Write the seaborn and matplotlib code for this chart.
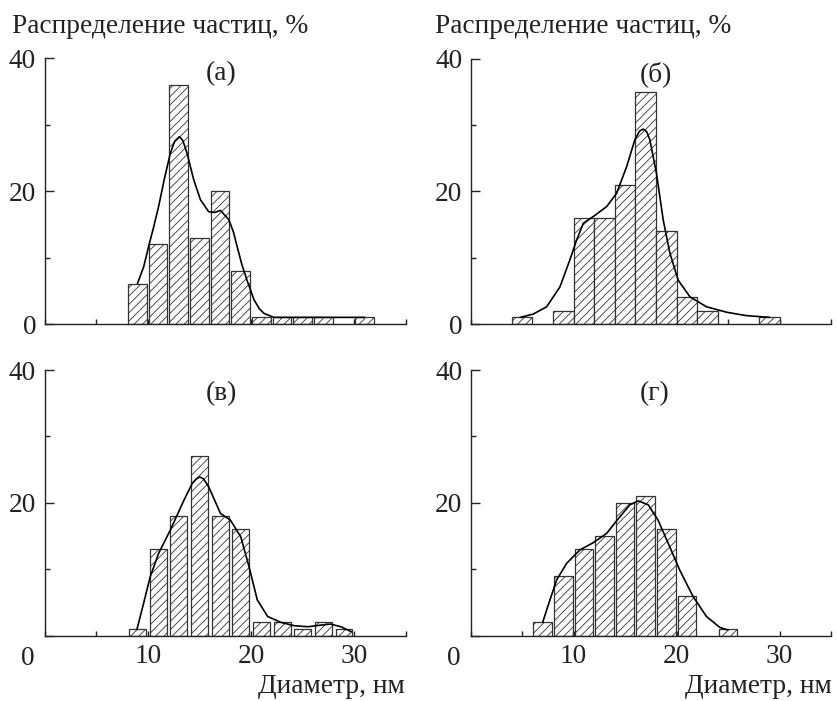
import matplotlib
matplotlib.use("Agg")
import matplotlib.pyplot as plt
import seaborn as sns
import pandas as pd
from matplotlib.ticker import MultipleLocator, FixedLocator, FuncFormatter

# ---------------- data ----------------
a_centers = [9, 11, 13, 15, 17, 19, 21, 23, 25, 27, 31]
a_values = [6, 12, 36, 13, 20, 8, 1, 1, 1, 1, 1]
a_curve_x = [9.0, 9.6, 10.15, 10.6, 11.05, 11.6, 12.18, 12.6, 13.06, 13.4, 13.8, 14.45, 15.1,
             15.9, 16.5, 17.04, 17.85, 18.3, 18.66, 19.1, 19.6, 20.3, 20.8, 21.25, 22.2, 26.0, 31.0]
a_curve_y = [6.1, 8.6, 12.1, 14.8, 17.7, 21.8, 25.7, 27.5, 28.2, 27.6, 25.7, 21.7, 18.7,
             16.9, 16.8, 17.1, 15.7, 13.8, 11.6, 9.0, 6.6, 3.6, 2.3, 1.6, 1.0, 1.0, 1.0]

b_centers = [5, 9, 11, 13, 15, 17, 19, 21, 23, 29]
b_values = [1, 2, 16, 16, 21, 35, 14, 4, 2, 1]
b_curve_x = [4.8, 6.08, 7.38, 8.67, 9.64, 10.3, 10.94, 11.9, 13.2, 14.17, 15.14, 15.95,
             16.4, 16.76, 17.1, 17.4, 18.05, 18.7, 19.35, 20.16, 21.3, 22.9, 24.9, 26.8, 29.05]
b_curve_y = [1.0, 1.5, 2.6, 5.6, 9.7, 12.7, 15.2, 16.2, 17.7, 19.7, 23.7, 27.8,
             29.1, 29.4, 29.0, 27.8, 22.7, 15.7, 10.7, 6.6, 4.1, 2.6, 1.76, 1.26, 1.0]

v_centers = [9, 11, 13, 15, 17, 19, 21, 23, 25, 27, 29]
v_values = [1, 13, 18, 27, 18, 16, 2, 2, 1, 2, 1]
v_curve_x = [8.95, 9.6, 10.24, 11.05, 12.18, 13.5, 14.3, 14.7, 15.03, 15.4, 15.9, 17.04, 18.0,
             19.0, 19.8, 20.6, 21.6, 22.9, 24.2, 25.5, 26.8, 27.7, 28.7, 29.7]
v_curve_y = [0.95, 4.9, 8.9, 12.4, 15.9, 20.4, 22.9, 23.6, 23.9, 23.6, 22.4, 18.4, 17.4,
             14.9, 10.4, 5.4, 2.9, 2.0, 1.5, 1.35, 1.6, 1.75, 1.35, 0.6]

g_centers = [7, 9, 11, 13, 15, 17, 19, 21, 25]
g_values = [2, 9, 13, 15, 20, 21, 16, 6, 1]
g_curve_x = [6.99, 7.7, 8.35, 9.32, 10.6, 11.9, 13.2, 14.49, 15.46, 16.27, 17.25,
             18.2, 19.19, 20.3, 21.6, 22.9, 24.2, 25.0]
g_curve_y = [2.0, 5.4, 8.4, 10.9, 12.9, 14.0, 15.4, 17.9, 19.7, 20.3, 19.7,
             17.4, 13.9, 9.9, 5.9, 2.9, 1.25, 0.85]

panel_labels = ["(а)", "(б)", "(в)", "(г)"]
y_title = "Распределение частиц, %"
x_title = "Диаметр, нм"
x_tick_labels = ["0", "10", "20", "30"]

# ---------------- style ----------------
sns.set_style("ticks")
plt.rcParams["font.family"] = ["Liberation Serif", "DejaVu Serif"]
plt.rcParams["hatch.linewidth"] = 0.6
plt.rcParams["hatch.color"] = "#222222"
FS = 19.7

fig = plt.figure(figsize=(8.36, 7.01), dpi=100)
W, H = 836, 701


def px_axes(left, right, top, bottom):
    return fig.add_axes([left / W, 1 - bottom / H, (right - left) / W, (bottom - top) / H])


axes = [
    px_axes(44.5, 406, 58.3, 324),
    px_axes(470.7, 831, 58.8, 324),
    px_axes(44.5, 406, 370, 635.7),
    px_axes(470.7, 831, 370, 635.7),
]

panels = [
    (a_centers, a_values, a_curve_x, a_curve_y, 0.9, (17.1, 37.7)),
    (b_centers, b_values, b_curve_x, b_curve_y, 1.0, (18.0, 37.7)),
    (v_centers, v_values, v_curve_x, v_curve_y, 0.82, (17.1, 36.5)),
    (g_centers, g_values, g_curve_x, g_curve_y, 0.9, (17.9, 36.5)),
]

for i, (ax, (cx, cv, kx, ky, wd, lab_pos)) in enumerate(zip(axes, panels)):
    df = pd.DataFrame({"d": cx, "p": cv})
    sns.barplot(data=df, x="d", y="p", native_scale=True, width=wd, ax=ax,
                color="white", edgecolor="#333333", linewidth=0.9, hatch="////",
                saturation=1, errorbar=None)
    cdf = pd.DataFrame({"x": kx, "y": ky})
    sns.lineplot(data=cdf, x="x", y="y", ax=ax, color="black", linewidth=1.2,
                 sort=False, estimator=None)
    ax.set_xlim(0, 35)
    ax.set_ylim(0, 40)
    ax.set_xlabel("")
    ax.set_ylabel("")
    sns.despine(ax=ax)
    for sp in ["left", "bottom"]:
        ax.spines[sp].set_linewidth(1.0)
        ax.spines[sp].set_color("#222222")
    ax.xaxis.set_major_locator(FixedLocator([0, 10, 20, 30]))
    ax.xaxis.set_minor_locator(FixedLocator([5, 15, 25, 35]))
    ax.yaxis.set_major_locator(MultipleLocator(20))
    ax.yaxis.set_minor_locator(MultipleLocator(10))
    ax.tick_params(which="major", direction="in", length=6.5, width=1.0,
                   labelsize=FS, colors="#222222", pad=6)
    ax.tick_params(which="minor", direction="in", length=3.6, width=1.0, colors="#222222")
    ax.tick_params(axis="x", which="major", length=3.6)
    ax.text(lab_pos[0], lab_pos[1], panel_labels[i], ha="center", va="center",
            fontsize=FS, color="#222222")
    if i < 2:
        ax.tick_params(axis="x", labelbottom=False)
    else:
        ax.set_xticks([0, 10, 20, 30])
        ax.set_xticklabels([""] + x_tick_labels[1:])
        ax.yaxis.set_major_formatter(FuncFormatter(lambda v, p: "" if v == 0 else f"{v:.0f}"))
        ax.text(-0.045 if i == 2 else -0.048, -0.04, x_tick_labels[0], transform=ax.transAxes,
                ha="center", va="top", fontsize=FS, color="#222222")

fig.text(12 / W, 1 - 33 / H, y_title, ha="left", va="baseline", fontsize=FS, color="#222222")
fig.text(435 / W, 1 - 33 / H, y_title, ha="left", va="baseline", fontsize=FS, color="#222222")
fig.text(405 / W, 1 - 693 / H, x_title, ha="right", va="baseline", fontsize=FS, color="#222222")
fig.text(832 / W, 1 - 693 / H, x_title, ha="right", va="baseline", fontsize=FS, color="#222222")

fig.savefig("out.png", dpi=100)
